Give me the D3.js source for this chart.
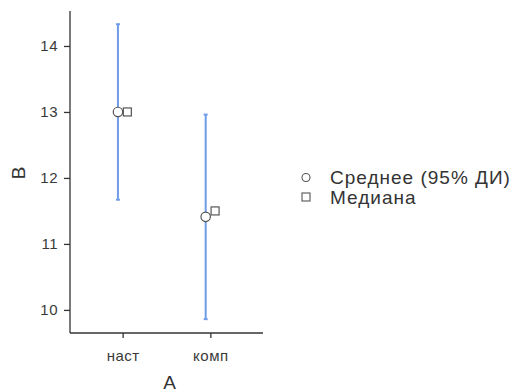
<!DOCTYPE html>
<html>
<head>
<meta charset="utf-8">
<script src="https://cdn.jsdelivr.net/npm/d3@7/dist/d3.min.js"></script>
<style>
  html, body { margin: 0; padding: 0; background: #fff; }
  svg { display: block; font-family: "Liberation Sans", Arial, sans-serif; }
</style>
</head>
<body>
<svg id="chart" width="516" height="392"></svg>
<script>
// Groups and their summary statistics
const groups = ["наст", "комп"];
const means = [13.0, 11.41];
const ciLower = [11.67, 9.86];
const ciUpper = [14.33, 12.96];
const medians = [13.0, 11.5];
const yTicks = [10, 11, 12, 13, 14];
const legendLabels = ["Среднее (95% ДИ)", "Медиана"];

const svg = d3.select("#chart");
const plot = { left: 70, right: 263, top: 11, bottom: 333 };

const x = d3.scalePoint().domain(groups).range([plot.left, plot.right]).padding(0.6);
const y = d3.scaleLinear().domain([9.65, 14.53]).range([plot.bottom, plot.top]);
const dodge = 4.7;
const ink = "#333333";
const barColor = "#6f9ce8";

// axes
const yAxis = svg.append("g")
  .attr("transform", `translate(${plot.left},0)`)
  .call(d3.axisLeft(y).tickValues(yTicks).tickFormat(d3.format("d")).tickSize(6).tickSizeOuter(0));
const xAxis = svg.append("g")
  .attr("transform", `translate(0,${plot.bottom})`)
  .call(d3.axisBottom(x).tickSize(5).tickSizeOuter(0));
[yAxis, xAxis].forEach(g => {
  g.select(".domain").attr("stroke", ink).attr("stroke-width", 1.3);
  g.selectAll(".tick line").attr("stroke", ink).attr("stroke-width", 1.3);
  g.selectAll(".tick text").attr("fill", "#3a3a3a").attr("font-size", 15)
    .attr("letter-spacing", 0.5)
    .attr("font-family", "Liberation Sans, Arial, sans-serif");
});
yAxis.selectAll(".tick text").attr("x", -12);
xAxis.selectAll(".tick text").attr("y", 17);
// extend axis lines to the full plot extent
yAxis.select(".domain").attr("d", `M0,${plot.top}V${plot.bottom}`);
xAxis.select(".domain").attr("d", `M${plot.left},0H${plot.right}`);

// axis titles
svg.append("text")
  .attr("x", 169.5)
  .attr("y", 389)
  .attr("text-anchor", "middle")
  .attr("font-size", 19).attr("fill", "#333")
  .text("A");
svg.append("text")
  .attr("transform", `translate(25,173) rotate(-90)`)
  .attr("text-anchor", "middle")
  .attr("font-size", 19).attr("fill", "#333")
  .text("B");

// confidence interval bars
const bars = svg.append("g");
groups.forEach((g, i) => {
  const cx = x(g) - dodge;
  bars.append("line")
    .attr("x1", cx).attr("x2", cx)
    .attr("y1", y(ciLower[i])).attr("y2", y(ciUpper[i]))
    .attr("stroke", barColor).attr("stroke-width", 2);
  [ciLower[i], ciUpper[i]].forEach(v => {
    bars.append("line")
      .attr("x1", cx - 2).attr("x2", cx + 2)
      .attr("y1", y(v)).attr("y2", y(v))
      .attr("stroke", barColor).attr("stroke-width", 2);
  });
});

// mean points
svg.append("g").selectAll("circle")
  .data(groups)
  .join("circle")
  .attr("cx", d => x(d) - dodge)
  .attr("cy", (d, i) => y(means[i]))
  .attr("r", 4.7)
  .attr("fill", "#fff").attr("stroke", "#555").attr("stroke-width", 1.2);

// median points
const sq = 8;
svg.append("g").selectAll("rect")
  .data(groups)
  .join("rect")
  .attr("x", d => x(d) + dodge - sq / 2)
  .attr("y", (d, i) => y(medians[i]) - sq / 2)
  .attr("width", sq).attr("height", sq)
  .attr("fill", "#fff").attr("stroke", "#555").attr("stroke-width", 1.2);

// legend
const legend = svg.append("g").attr("transform", "translate(306,177.5)");
legendLabels.forEach((label, i) => {
  const row = legend.append("g").attr("transform", `translate(0,${i * 19.5})`);
  if (i === 0) {
    row.append("circle").attr("r", 4).attr("fill", "#fff").attr("stroke", "#555").attr("stroke-width", 1.1);
  } else {
    row.append("rect").attr("x", -4).attr("y", -4).attr("width", 8).attr("height", 8)
      .attr("fill", "#fff").attr("stroke", "#555").attr("stroke-width", 1.1);
  }
  row.append("text").attr("x", 24).attr("y", 6.8)
    .attr("font-size", 19).attr("letter-spacing", 1.0)
    .attr("fill", "#333").text(label);
});
</script>
</body>
</html>
